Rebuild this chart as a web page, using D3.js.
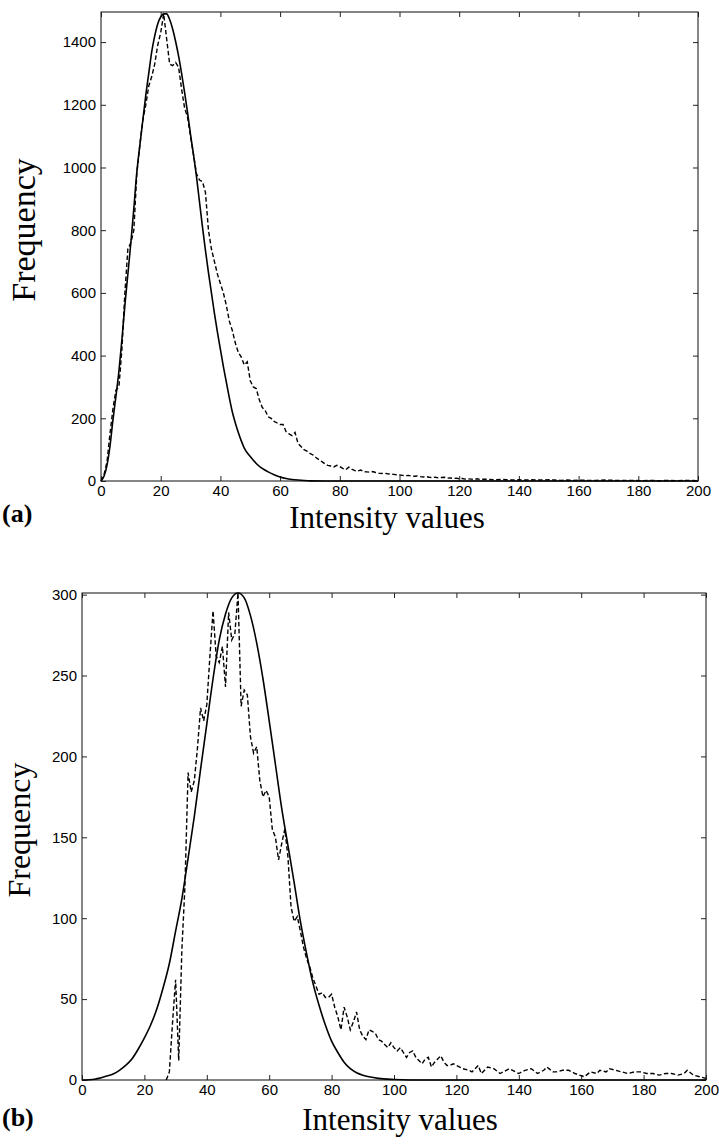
<!DOCTYPE html>
<html>
<head>
<meta charset="utf-8">
<script src="https://cdn.jsdelivr.net/npm/d3@7"></script>
<style>
  html, body { margin: 0; padding: 0; background: #fff; }
</style>
</head>
<body>
<script>
// Panel (a): histogram (dashed) and fitted curve (solid)
const aHistX = [0,1,2,3,4,5,6,7,8,9,10,11,12,13,14,15,16,17,18,19,20,21,22,23,24,25,26,27,28,29,30,31,32,33,34,35,36,37,38,39,40,41,42,43,44,45,46,47,48,49,50,51,52,53,54,55,56,57,58,59,60,61,62,63,64,65,66,67,68,69,70,71,72,73,74,75,76,77,78,79,80,81,82,83,84,85,86,87,88,89,90,91,92,93,94,95,96,97,98,99,100,101,102,103,104,105,106,107,108,109,110,111,112,113,114,115,116,117,118,119,120,121,122,123,124,125,126,127,128,130,132,134,136,138,140,142,144,146,148,150,152,154,156,158,160,163,166,169,172,175,178,181,184,187,190,193,196,200];
const aHistY = [0,20,60,150,230,290,300,420,600,740,760,800,980,1070,1150,1200,1260,1290,1330,1390,1430,1490,1410,1330,1325,1335,1320,1250,1190,1160,1100,1040,980,960,955,920,800,740,700,660,630,600,560,510,480,440,410,395,370,380,320,300,295,260,235,225,205,200,190,185,180,180,158,150,145,155,120,110,100,95,88,83,75,68,62,55,50,48,45,50,46,40,36,44,38,33,32,35,30,29,28,30,27,25,24,25,23,22,21,20,19,18,17,18,16,15,16,14,13,14,12,11,12,10,11,12,9,10,8,9,7,8,6,7,6,5,7,5,6,5,4,5,4,3,4,3,4,3,3,4,3,2,3,2,3,2,2,3,2,2,2,1,2,1,2,1,2,1];
const aFitX = [0,1,2,3,4,5,6,7,8,9,10,11,12,13,14,15,16,17,18,19,20,21,22,23,24,25,26,27,28,29,30,31,32,33,34,35,36,37,38,39,40,41,42,43,44,45,46,47,48,50,52,54,56,58,60,62,64,66,68,70,75,200];
const aFitY = [0,15,50,110,195,270,350,450,560,660,760,870,985,1070,1150,1230,1300,1370,1420,1458,1480,1490,1490,1472,1442,1402,1355,1300,1240,1175,1105,1040,970,890,810,735,665,600,535,475,420,365,315,265,220,185,155,128,105,78,56,40,29,20,13,8,5,3,1.5,0.5,0,0];
const aXTicks = [0,20,40,60,80,100,120,140,160,180,200];
const aYTicks = [0,200,400,600,800,1000,1200,1400];

// Panel (b)
const bHistX = [27,28,29,30,31,32,33,34,35,36,37,38,39,40,41,42,43,44,45,46,47,48,49,50,51,52,53,54,55,56,57,58,59,60,61,62,63,64,65,66,67,68,69,70,71,72,73,74,75,76,77,78,79,80,81,82,83,84,85,86,87,88,89,90,91,92,93,94,95,96,97,98,99,100,101,102,103,104,105,106,107,108,109,110,111,112,113,114,115,116,117,118,119,120,122,124,125,127,128,130,132,134,136,137,139,140,142,144,146,148,149,151,152,154,156,158,161,163,165,166,168,169,171,173,175,177,179,181,183,185,187,189,191,193,194,196,198,200];
const bHistY = [0,5,35,62,12,80,120,190,178,185,205,230,222,232,262,290,262,258,268,243,289,272,276,301,231,241,238,212,202,206,185,175,179,175,155,150,136,146,155,138,107,98,101,92,82,75,70,63,58,53,54,51,51,53,45,39,31,45,39,31,36,42,31,27,25,31,30,29,25,24,22,20,23,20,18,20,17,14,17,18,14,12,10,13,14,8,11,13,15,11,9,9,10,9,7,6,5,9,4,8,7,4,6,7,5,4,6,7,4,6,8,5,5,6,6,4,2,5,4,6,5,7,6,5,4,5,5,4,4,3,4,4,3,4,6,3,2,1];
const bFitX = [0,4,8,10,12,14,16,18,20,22,24,26,28,30,32,34,36,38,40,42,44,46,48,50,52,54,56,58,60,62,64,66,68,70,72,74,76,78,80,82,84,86,88,90,92,95,100,105,200];
const bFitY = [0,0.5,2.5,3.7,6,9,13,19,26,34,44,57,72,92,112,137,163,192,220,248,272,288,298,301,298,287,270,248,222,195,168,145,122,98,78,60,46,34,24,17,11,7,4.5,3,2,1,0.3,0,0];
const bXTicks = [0,20,40,60,80,100,120,140,160,180,200];
const bYTicks = [0,50,100,150,200,250,300];

const W = 719, H = 1145;
const SERIF = "'Liberation Serif', 'Times New Roman', serif";
const svg = d3.select("body").append("svg")
  .attr("width", W)
  .attr("height", H)
  .attr("font-family", "'Liberation Sans', Arial, sans-serif");

svg.append("rect").attr("width", W).attr("height", H).attr("fill", "#fff");

function panel(opt) {
  const { left, right, top, bottom, yMax, histX, histY, fitX, fitY, xTicks, yTicks } = opt;
  const x = d3.scaleLinear().domain([0, 200]).range([left, right]);
  const y = d3.scaleLinear().domain([0, yMax]).range([bottom, top]);
  const g = svg.append("g");
  const fmt = d3.format("d");

  // inward ticks on all four sides, labels on bottom and left only
  const tick = 5;
  g.append("g").attr("transform", `translate(0,${bottom})`)
    .call(d3.axisBottom(x).tickValues(xTicks).tickFormat(fmt).tickSizeInner(-tick).tickSizeOuter(0).tickPadding(4));
  g.append("g").attr("transform", `translate(0,${top})`)
    .call(d3.axisTop(x).tickValues(xTicks).tickSizeInner(-tick).tickSizeOuter(0).tickFormat(""));
  g.append("g").attr("transform", `translate(${left},0)`)
    .call(d3.axisLeft(y).tickValues(yTicks).tickFormat(fmt).tickSizeInner(-tick).tickSizeOuter(0).tickPadding(5));
  g.append("g").attr("transform", `translate(${right},0)`)
    .call(d3.axisRight(y).tickValues(yTicks).tickSizeInner(-tick).tickSizeOuter(0).tickFormat(""));
  g.selectAll(".domain").remove();
  g.selectAll(".tick line").attr("stroke", "#222");
  g.selectAll(".tick text").attr("font-size", 15).attr("fill", "#000");

  g.append("rect")
    .attr("x", left).attr("y", top)
    .attr("width", right - left).attr("height", bottom - top)
    .attr("fill", "none").attr("stroke", "#222").attr("stroke-width", 1.1);

  const fit = d3.line().x((d, i) => x(fitX[i])).y(d => y(d)).curve(d3.curveMonotoneX);
  g.append("path").datum(fitY)
    .attr("d", fit)
    .attr("fill", "none").attr("stroke", "#000").attr("stroke-width", 1.6);

  const hist = d3.line().x((d, i) => x(histX[i])).y(d => y(d));
  g.append("path").datum(histY)
    .attr("d", hist)
    .attr("fill", "none").attr("stroke", "#000").attr("stroke-width", 1.4)
    .attr("stroke-dasharray", "4.5,2.5");

  // labels
  svg.append("text")
    .attr("x", opt.titleX).attr("y", opt.titleY)
    .attr("text-anchor", "middle")
    .attr("font-family", SERIF)
    .attr("font-size", 31)
    .text("Intensity values");
  svg.append("text")
    .attr("transform", `translate(${opt.freqX},${opt.freqY}) rotate(-90)`)
    .attr("text-anchor", "middle")
    .attr("font-family", SERIF)
    .attr("font-size", opt.freqSize)
    .text("Frequency");
  svg.append("text")
    .attr("x", 2).attr("y", opt.tagY)
    .attr("font-family", SERIF)
    .attr("font-weight", "bold")
    .attr("font-size", 26)
    .text(opt.tag);
}

panel({
  left: 101, right: 698, top: 12, bottom: 481, yMax: 1496,
  histX: aHistX, histY: aHistY, fitX: aFitX, fitY: aFitY,
  xTicks: aXTicks, yTicks: aYTicks,
  titleX: 387, titleY: 528, freqX: 35, freqY: 230, freqSize: 34, tag: "(a)", tagY: 522
});

panel({
  left: 82, right: 706, top: 593, bottom: 1080, yMax: 301,
  histX: bHistX, histY: bHistY, fitX: bFitX, fitY: bFitY,
  xTicks: bXTicks, yTicks: bYTicks,
  titleX: 400, titleY: 1130, freqX: 30, freqY: 830, freqSize: 32, tag: "(b)", tagY: 1126
});
</script>
</body>
</html>
